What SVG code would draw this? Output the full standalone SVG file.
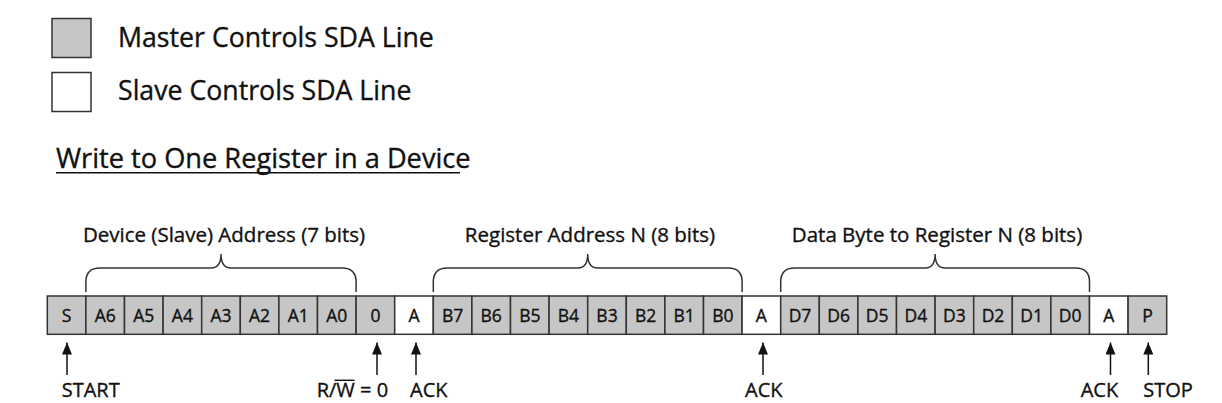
<svg xmlns="http://www.w3.org/2000/svg" width="1222" height="403" viewBox="0 0 1222 403">
<defs>
<style>
text{font-family:"Open Sans","Noto Sans","Liberation Sans",sans-serif;fill:#111;stroke:#111;stroke-width:0.35}
.g{fill:#c6c6c6;stroke:#333;stroke-width:1.5}
.w{fill:#fff;stroke:#333;stroke-width:1.5}
.ct{font-size:17.5px;text-anchor:middle}
.lg{font-size:26.7px}
.ttl{font-size:27.2px}
.bl{font-size:20.5px;text-anchor:middle}
.al{font-size:20px}
.br{fill:none;stroke:#333;stroke-width:1.5}
.ar{stroke:#111;stroke-width:1.5;marker-end:url(#ah)}
</style>
<marker id="ah" viewBox="0 0 12 10" refX="12" refY="5" markerWidth="12" markerHeight="10" markerUnits="userSpaceOnUse" orient="auto">
<path d="M0,0 L12,5 L0,10 z" fill="#111"/>
</marker>
</defs>
<rect width="1222" height="403" fill="#fff"/>

<g id="legend">
<g id="legend-master"><rect class="g" x="52" y="18.5" width="39" height="39"/><text class="lg" x="118" y="47">Master Controls SDA Line</text></g>
<g id="legend-slave"><rect class="w" x="52" y="72.5" width="39" height="39"/><text class="lg" x="118" y="99.5">Slave Controls SDA Line</text></g>
</g>

<g id="title"><text class="ttl" x="56" y="168">Write to One Register in a Device</text><line x1="56" y1="172.8" x2="460" y2="172.8" stroke="#111" stroke-width="1.4"/></g>

<g id="cells">
<g id="c0"><rect class="g" x="47.3" y="296" width="38.6" height="38.3"/><text class="ct" x="66.6" y="321.5">S</text></g>
<g id="c1"><rect class="g" x="85.9" y="296" width="38.6" height="38.3"/><text class="ct" x="105.2" y="321.5">A6</text></g>
<g id="c2"><rect class="g" x="124.5" y="296" width="38.6" height="38.3"/><text class="ct" x="143.8" y="321.5">A5</text></g>
<g id="c3"><rect class="g" x="163.1" y="296" width="38.6" height="38.3"/><text class="ct" x="182.4" y="321.5">A4</text></g>
<g id="c4"><rect class="g" x="201.7" y="296" width="38.6" height="38.3"/><text class="ct" x="221" y="321.5">A3</text></g>
<g id="c5"><rect class="g" x="240.3" y="296" width="38.6" height="38.3"/><text class="ct" x="259.6" y="321.5">A2</text></g>
<g id="c6"><rect class="g" x="278.9" y="296" width="38.6" height="38.3"/><text class="ct" x="298.2" y="321.5">A1</text></g>
<g id="c7"><rect class="g" x="317.5" y="296" width="38.6" height="38.3"/><text class="ct" x="336.8" y="321.5">A0</text></g>
<g id="c8"><rect class="g" x="356.1" y="296" width="38.6" height="38.3"/><text class="ct" x="375.4" y="321.5">0</text></g>
<g id="c9"><rect class="w" x="394.7" y="296" width="38.6" height="38.3"/><text class="ct" x="414" y="321.5">A</text></g>
<g id="c10"><rect class="g" x="433.3" y="296" width="38.6" height="38.3"/><text class="ct" x="452.6" y="321.5">B7</text></g>
<g id="c11"><rect class="g" x="471.9" y="296" width="38.6" height="38.3"/><text class="ct" x="491.2" y="321.5">B6</text></g>
<g id="c12"><rect class="g" x="510.5" y="296" width="38.6" height="38.3"/><text class="ct" x="529.8" y="321.5">B5</text></g>
<g id="c13"><rect class="g" x="549.1" y="296" width="38.6" height="38.3"/><text class="ct" x="568.4" y="321.5">B4</text></g>
<g id="c14"><rect class="g" x="587.7" y="296" width="38.6" height="38.3"/><text class="ct" x="607" y="321.5">B3</text></g>
<g id="c15"><rect class="g" x="626.3" y="296" width="38.6" height="38.3"/><text class="ct" x="645.6" y="321.5">B2</text></g>
<g id="c16"><rect class="g" x="664.9" y="296" width="38.6" height="38.3"/><text class="ct" x="684.2" y="321.5">B1</text></g>
<g id="c17"><rect class="g" x="703.5" y="296" width="38.6" height="38.3"/><text class="ct" x="722.8" y="321.5">B0</text></g>
<g id="c18"><rect class="w" x="742.1" y="296" width="38.6" height="38.3"/><text class="ct" x="761.4" y="321.5">A</text></g>
<g id="c19"><rect class="g" x="780.7" y="296" width="38.6" height="38.3"/><text class="ct" x="800" y="321.5">D7</text></g>
<g id="c20"><rect class="g" x="819.3" y="296" width="38.6" height="38.3"/><text class="ct" x="838.6" y="321.5">D6</text></g>
<g id="c21"><rect class="g" x="857.9" y="296" width="38.6" height="38.3"/><text class="ct" x="877.2" y="321.5">D5</text></g>
<g id="c22"><rect class="g" x="896.5" y="296" width="38.6" height="38.3"/><text class="ct" x="915.8" y="321.5">D4</text></g>
<g id="c23"><rect class="g" x="935.1" y="296" width="38.6" height="38.3"/><text class="ct" x="954.4" y="321.5">D3</text></g>
<g id="c24"><rect class="g" x="973.7" y="296" width="38.6" height="38.3"/><text class="ct" x="993" y="321.5">D2</text></g>
<g id="c25"><rect class="g" x="1012.3" y="296" width="38.6" height="38.3"/><text class="ct" x="1031.6" y="321.5">D1</text></g>
<g id="c26"><rect class="g" x="1050.9" y="296" width="38.6" height="38.3"/><text class="ct" x="1070.2" y="321.5">D0</text></g>
<g id="c27"><rect class="w" x="1089.5" y="296" width="38.6" height="38.3"/><text class="ct" x="1108.8" y="321.5">A</text></g>
<g id="c28"><rect class="g" x="1128.1" y="296" width="38.6" height="38.3"/><text class="ct" x="1147.4" y="321.5">P</text></g>
</g>

<g id="braces">
<g id="brace-device"><path class="br" d="M85.9,292 V282 Q85.9,268 100,268 H211 Q221,268 221,254 Q221,268 231,268 H342 Q356.1,268 356.1,282 V292"/><text class="bl" x="224" y="242">Device (Slave) Address (7 bits)</text></g>
<g id="brace-register"><path class="br" d="M433.3,292 V282 Q433.3,268 447.3,268 H577.7 Q587.7,268 587.7,254 Q587.7,268 597.7,268 H728.1 Q742.1,268 742.1,282 V292"/><text class="bl" x="590" y="242">Register Address N (8 bits)</text></g>
<g id="brace-data"><path class="br" d="M780.7,292 V282 Q780.7,268 794.7,268 H925.1 Q935.1,268 935.1,254 Q935.1,268 945.1,268 H1075.5 Q1089.5,268 1089.5,282 V292"/><text class="bl" x="937" y="242">Data Byte to Register N (8 bits)</text></g>
</g>

<g id="connectors">
<line class="ar" x1="67" y1="375" x2="67" y2="342.5"/>
<line class="ar" x1="377" y1="375" x2="377" y2="342.5"/>
<line class="ar" x1="416" y1="375" x2="416" y2="342.5"/>
<line class="ar" x1="763" y1="375" x2="763" y2="342.5"/>
<line class="ar" x1="1110.5" y1="375" x2="1110.5" y2="342.5"/>
<line class="ar" x1="1148.3" y1="375" x2="1148.3" y2="342.5"/>
</g>

<g id="arrow-labels">
<text class="al" x="61.7" y="396.7">START</text>
<text class="al" x="316.7" y="396.7">R/W = 0</text>
<line x1="334.5" y1="380.3" x2="354.5" y2="380.3" stroke="#111" stroke-width="1.4"/>
<text class="al" x="410" y="396.7">ACK</text>
<text class="al" x="745" y="396.7">ACK</text>
<text class="al" x="1080.7" y="396.7">ACK</text>
<text class="al" x="1143.3" y="396.7">STOP</text>
</g>
</svg>
